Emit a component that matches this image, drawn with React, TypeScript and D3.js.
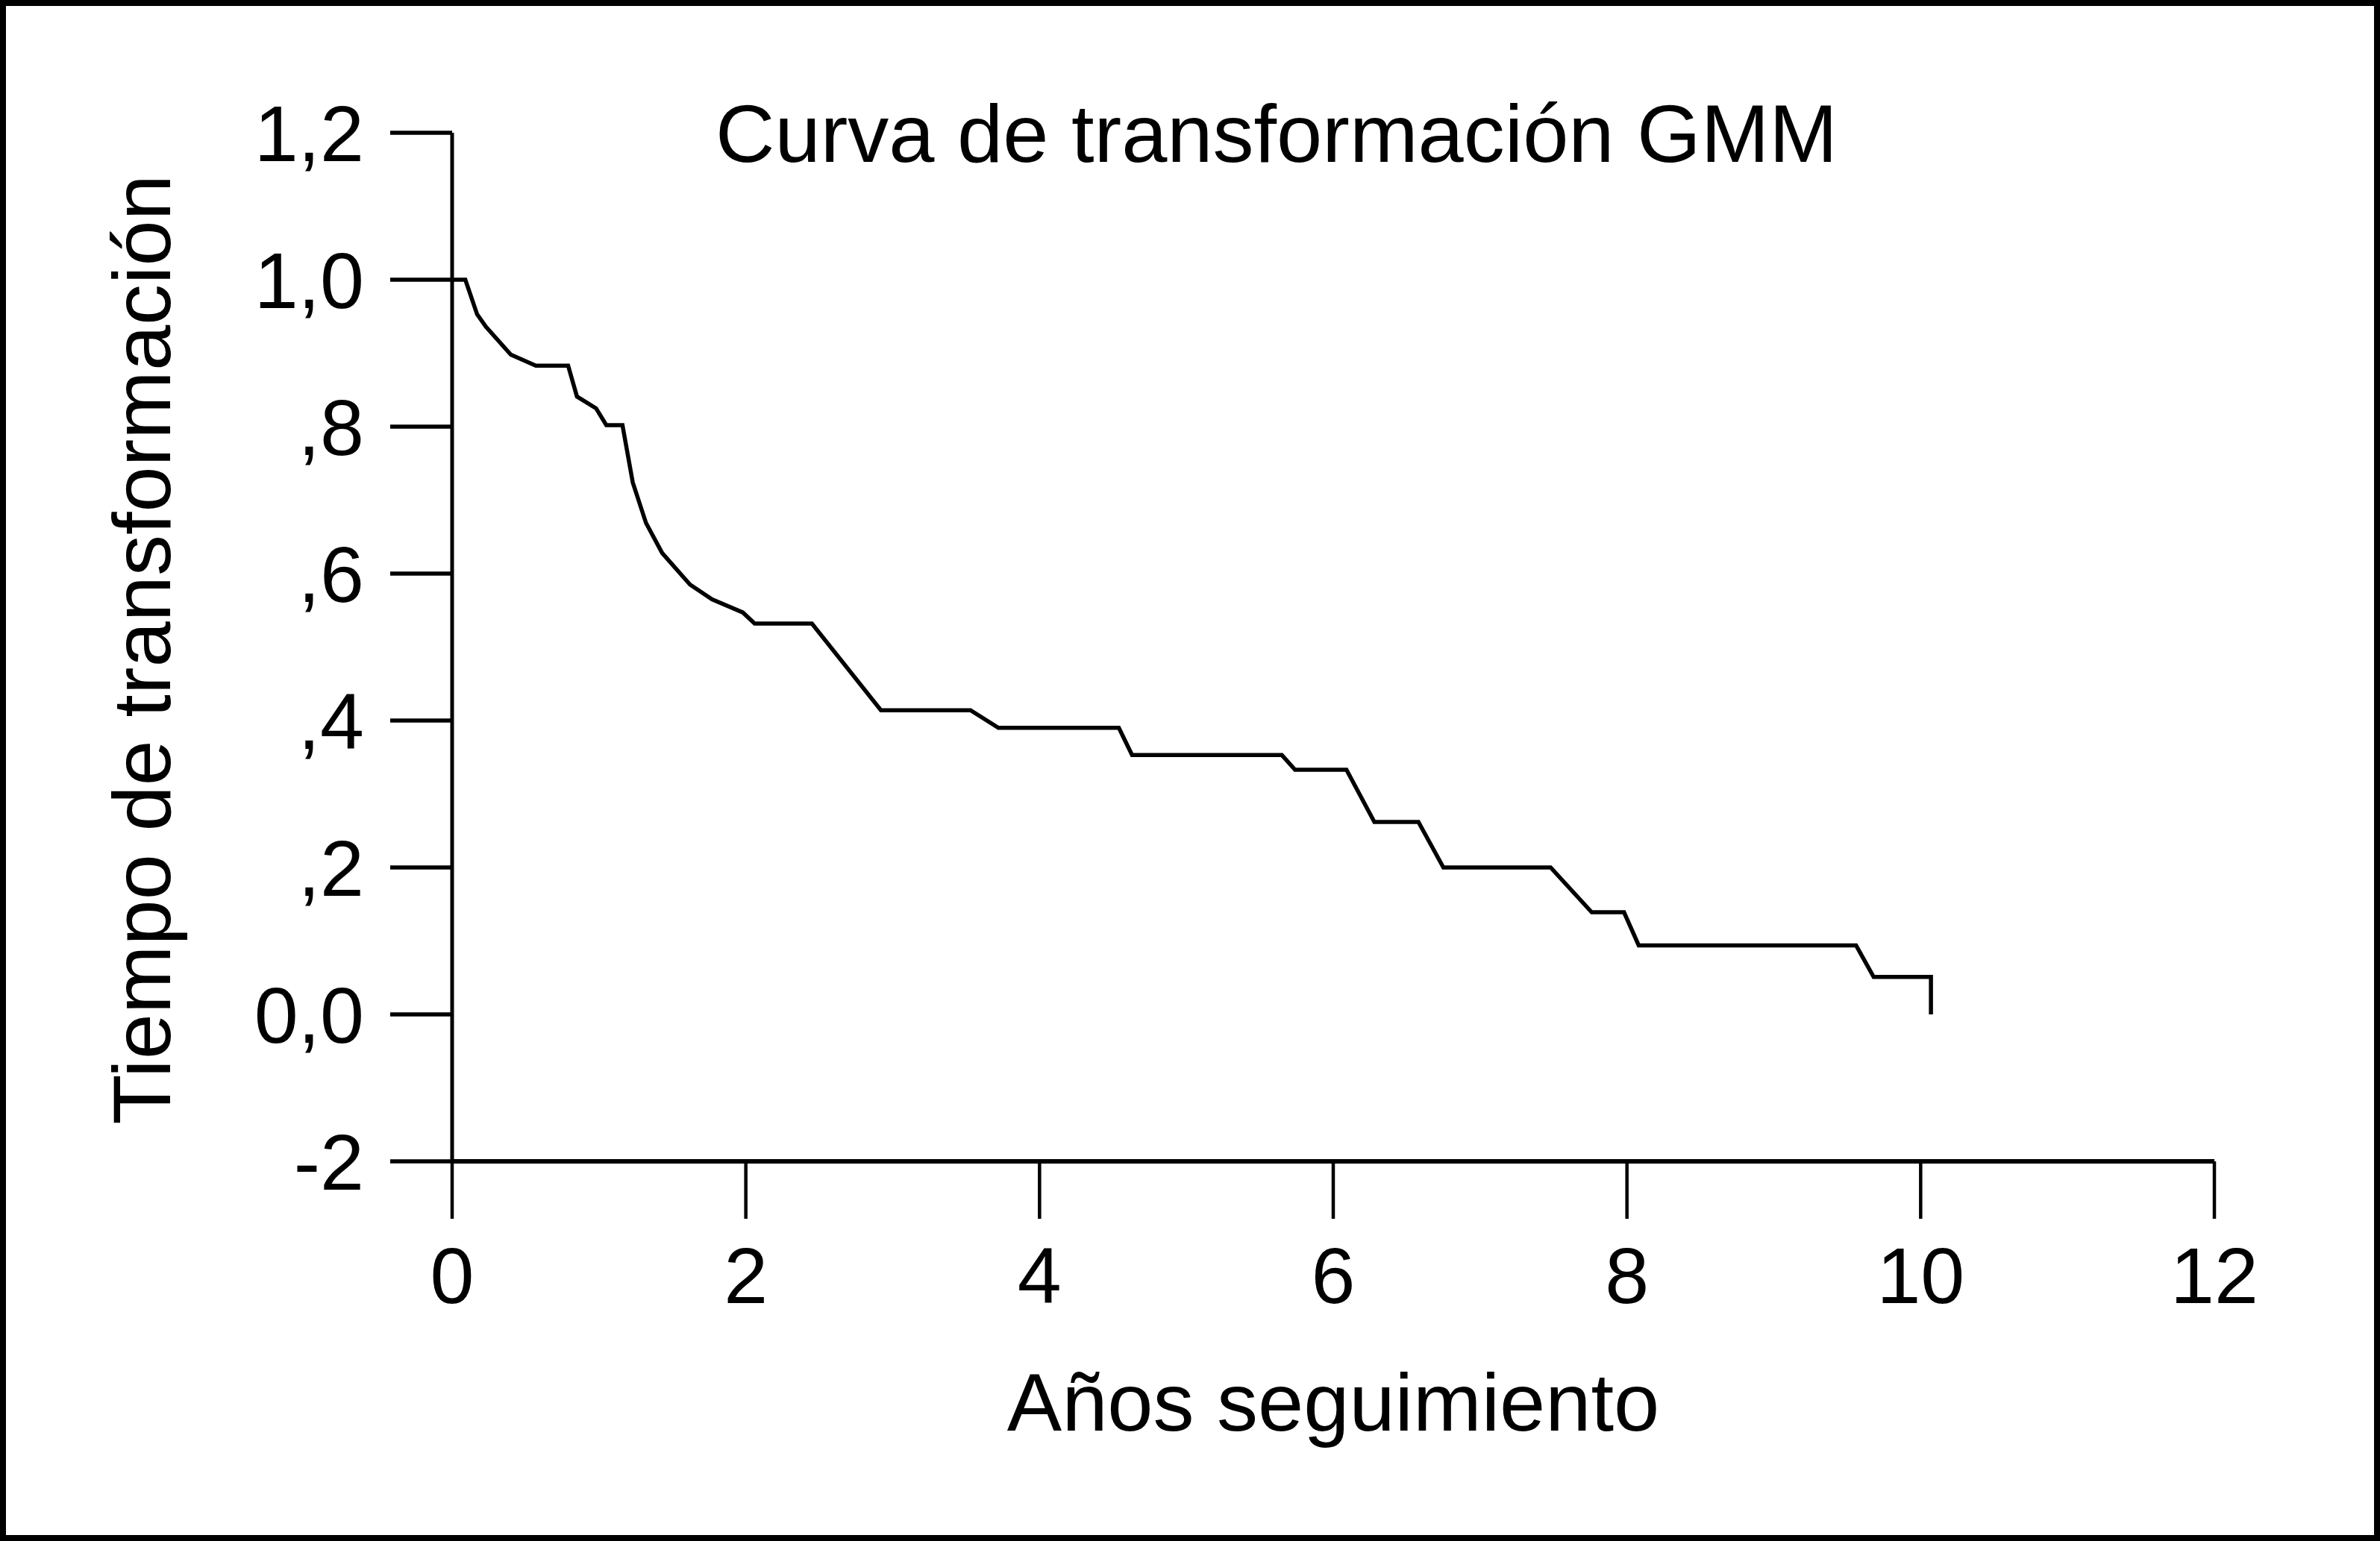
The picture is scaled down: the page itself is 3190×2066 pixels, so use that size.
import React from "react";
import * as d3 from "d3";

const years = [0, 0.09, 0.17, 0.23, 0.4, 0.57, 0.79, 0.85, 0.98, 1.05, 1.16, 1.23, 1.32, 1.43, 1.62, 1.77, 1.98, 2.06, 2.45, 2.92, 3.53, 3.72, 4.54, 4.63, 5.65, 5.74, 6.09, 6.28, 6.58, 6.75, 7.48, 7.76, 7.98, 8.08, 9.56, 9.68, 10.07, 10.07];
const survival = [1.0, 1.0, 0.953, 0.936, 0.898, 0.883, 0.883, 0.841, 0.825, 0.802, 0.802, 0.724, 0.669, 0.628, 0.585, 0.565, 0.547, 0.532, 0.532, 0.414, 0.414, 0.39, 0.39, 0.353, 0.353, 0.333, 0.333, 0.262, 0.262, 0.2, 0.2, 0.139, 0.139, 0.094, 0.094, 0.051, 0.051, 0.0];

const xTicks = [0, 2, 4, 6, 8, 10, 12];
const xTickLabels = ["0", "2", "4", "6", "8", "10", "12"];
const yTicks = [1.2, 1.0, 0.8, 0.6, 0.4, 0.2, 0.0, -0.2];
const yTickLabels = ["1,2", "1,0", ",8", ",6", ",4", ",2", "0,0", "-2"];

const title = "Curva de transformación GMM";
const xTitle = "Años seguimiento";
const yTitle = "Tiempo de transformación";

const W = 3190;
const H = 2066;
const FONT = "'Liberation Sans', Arial, Helvetica, sans-serif";

export default function App() {
  const x = d3.scaleLinear().domain([0, 12]).range([606, 2968]);
  const y = d3.scaleLinear().domain([-0.2, 1.2]).range([1557, 178]);
  const tickLen = 80;

  const pts: [number, number][] = years.map((t, i) => [t, survival[i]]);
  const line = d3
    .line<[number, number]>()
    .x((d) => x(d[0]))
    .y((d) => y(d[1]))
    .curve(d3.curveLinear);

  const x0 = x(0);
  const yBottom = y(-0.2);

  return (
    <svg
      width={W}
      height={H}
      viewBox={`0 0 ${W} ${H}`}
      style={{ position: "absolute", left: 0, top: 0, background: "#fff" }}
    >
      <rect x={0} y={0} width={W} height={H} fill="#fff" />
      <rect x={4} y={4} width={W - 8} height={H - 8} fill="none" stroke="#000" strokeWidth={8} />

      {/* Y axis */}
      <line x1={x0} x2={x0} y1={y(1.2)} y2={yBottom} stroke="#000" strokeWidth={5} />
      {yTicks.map((v, i) => (
        <g key={"yt" + i}>
          <line x1={x0 - tickLen - 3} x2={x0} y1={y(v)} y2={y(v)} stroke="#000" strokeWidth={5.5} />
          <text
            x={488}
            y={y(v)}
            dy="0.36em"
            textAnchor="end"
            fontFamily={FONT}
            fontSize={106}
            fill="#000"
          >
            {yTickLabels[i]}
          </text>
        </g>
      ))}

      {/* X axis */}
      <line x1={x0} x2={x(12)} y1={yBottom} y2={yBottom} stroke="#000" strokeWidth={6} />
      {xTicks.map((t, i) => (
        <g key={"xt" + i}>
          <line x1={x(t)} x2={x(t)} y1={yBottom} y2={yBottom + tickLen - 3} stroke="#000" strokeWidth={4.5} />
          <text
            x={x(t)}
            y={1747}
            textAnchor="middle"
            fontFamily={FONT}
            fontSize={106}
            fill="#000"
          >
            {xTickLabels[i]}
          </text>
        </g>
      ))}

      {/* Curve */}
      <path d={line(pts) || ""} fill="none" stroke="#000" strokeWidth={5.5} strokeLinejoin="miter" />

      {/* Titles */}
      <text x={1711} y={217} textAnchor="middle" fontFamily={FONT} fontSize={110} fill="#000">
        {title}
      </text>
      <text x={x(6)} y={1918} textAnchor="middle" fontFamily={FONT} fontSize={110} fill="#000">
        {xTitle}
      </text>
      <text
        transform={`translate(228, 871) rotate(-90)`}
        textAnchor="middle"
        fontFamily={FONT}
        fontSize={110}
        fill="#000"
      >
        {yTitle}
      </text>
    </svg>
  );
}
